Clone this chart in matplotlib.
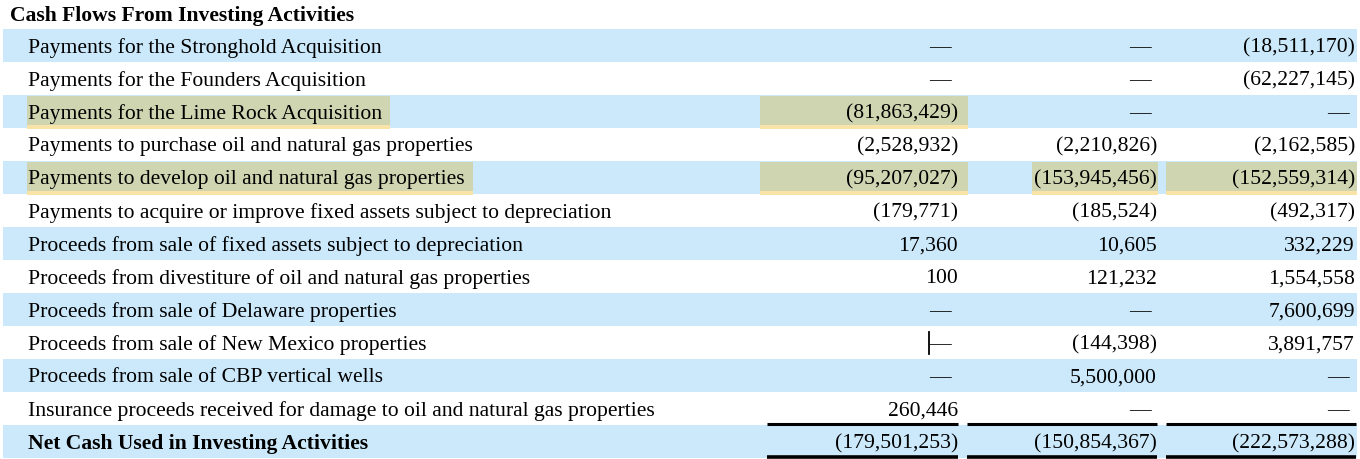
import matplotlib.pyplot as plt
from matplotlib.patches import Rectangle

# table data
title = "Cash Flows From Investing Activities"
labels = [
    "Payments for the Stronghold Acquisition",
    "Payments for the Founders Acquisition",
    "Payments for the Lime Rock Acquisition",
    "Payments to purchase oil and natural gas properties",
    "Payments to develop oil and natural gas properties",
    "Payments to acquire or improve fixed assets subject to depreciation",
    "Proceeds from sale of fixed assets subject to depreciation",
    "Proceeds from divestiture of oil and natural gas properties",
    "Proceeds from sale of Delaware properties",
    "Proceeds from sale of New Mexico properties",
    "Proceeds from sale of CBP vertical wells",
    "Insurance proceeds received for damage to oil and natural gas properties",
]
col1 = ["—", "—", "(81,863,429)", "(2,528,932)", "(95,207,027)", "(179,771)",
        "17,360", "100", "—", "—", "—", "260,446"]
col2 = ["—", "—", "—", "(2,210,826)", "(153,945,456)", "(185,524)",
        "10,605", "121,232", "—", "(144,398)", "5,500,000", "—"]
col3 = ["(18,511,170)", "(62,227,145)", "—", "(2,162,585)", "(152,559,314)", "(492,317)",
        "332,229", "1,554,558", "7,600,699", "3,891,757", "—", "—"]
total_label = "Net Cash Used in Investing Activities"
totals = ["(179,501,253)", "(150,854,367)", "(222,573,288)"]

# highlighted cells: (row, column) with column 0 = label
highlights = [(2, 0), (2, 1), (4, 0), (4, 1), (4, 2), (4, 3)]

BLUE = "#cce9fb"
OLIVE = "#cfd5b1"
GLOW = "#fae3a6"
FONT = "Liberation Serif"
FS = 15.6

fig = plt.figure(figsize=(13.6, 4.6), dpi=100)
ax = fig.add_axes([0, 0, 1, 1])
ax.set_xlim(0, 1360)
ax.set_ylim(460, 0)
ax.axis("off")

row_h = 33.0
first_y = 46
right_edges = [958, 1157, 1355]
line_spans = [(767, 958), (967, 1157), (1166, 1356)]
dash_x = [940, 1140, 1338]
# highlight x spans per column
hl_spans = {1: (760, 968), 2: (1032, 1158), 3: (1166, 1357)}

ax.text(10, 16, title, fontsize=FS, fontweight="bold", family=FONT, va="center")

all_labels = labels + [total_label]
all_cols = [col1 + [totals[0]], col2 + [totals[1]], col3 + [totals[2]]]

for i, lab in enumerate(all_labels):
    yc = first_y + i * row_h
    if i % 2 == 0:
        ax.add_patch(Rectangle((3, yc - row_h / 2), 1354, row_h, color=BLUE, lw=0, zorder=0))
    bold = i == len(all_labels) - 1
    t = ax.text(28, yc + 2, lab, fontsize=FS, family=FONT, va="center",
                fontweight="bold" if bold else "normal", zorder=3)
    if (i, 0) in highlights:
        fig.canvas.draw()
        bb = t.get_window_extent().transformed(ax.transData.inverted())
        x0, x1 = 27, bb.x1 + 8
        ax.add_patch(Rectangle((x0, yc - row_h / 2 + 1), x1 - x0, row_h - 2,
                               color=OLIVE, lw=0, zorder=1))
        ax.add_patch(Rectangle((x0, yc + row_h / 2 - 3), x1 - x0, 4,
                               color=GLOW, lw=0, zorder=1))
    for c, vals in enumerate(all_cols):
        v = vals[i]
        if (i, c + 1) in highlights:
            x0, x1 = hl_spans[c + 1]
            ax.add_patch(Rectangle((x0, yc - row_h / 2 + 1), x1 - x0, row_h - 2,
                                   color=OLIVE, lw=0, zorder=1))
            ax.add_patch(Rectangle((x0, yc + row_h / 2 - 3), x1 - x0, 4,
                                   color=GLOW, lw=0, zorder=1))
        if v == "—":
            ax.text(dash_x[c], yc + 2, v, fontsize=FS, family=FONT, va="center",
                    ha="center", zorder=3)
        else:
            ax.text(right_edges[c], yc + 2, v, fontsize=FS, family=FONT, va="center",
                    ha="right", zorder=3)

# stray vertical mark in the New Mexico row
nm = labels.index("Proceeds from sale of New Mexico properties")
ym = first_y + nm * row_h
ax.plot([dash_x[0] - 11, dash_x[0] - 11], [ym - 10, ym + 12], color="black", lw=1.3, zorder=3)

# total rules
for x0, x1 in line_spans:
    ax.plot([x0, x1], [425, 425], color="black", lw=2.2, solid_capstyle="butt", zorder=4)
    ax.plot([x0, x1], [458, 458], color="black", lw=2.6, solid_capstyle="butt", zorder=4)

fig.savefig("out.png", dpi=100)
